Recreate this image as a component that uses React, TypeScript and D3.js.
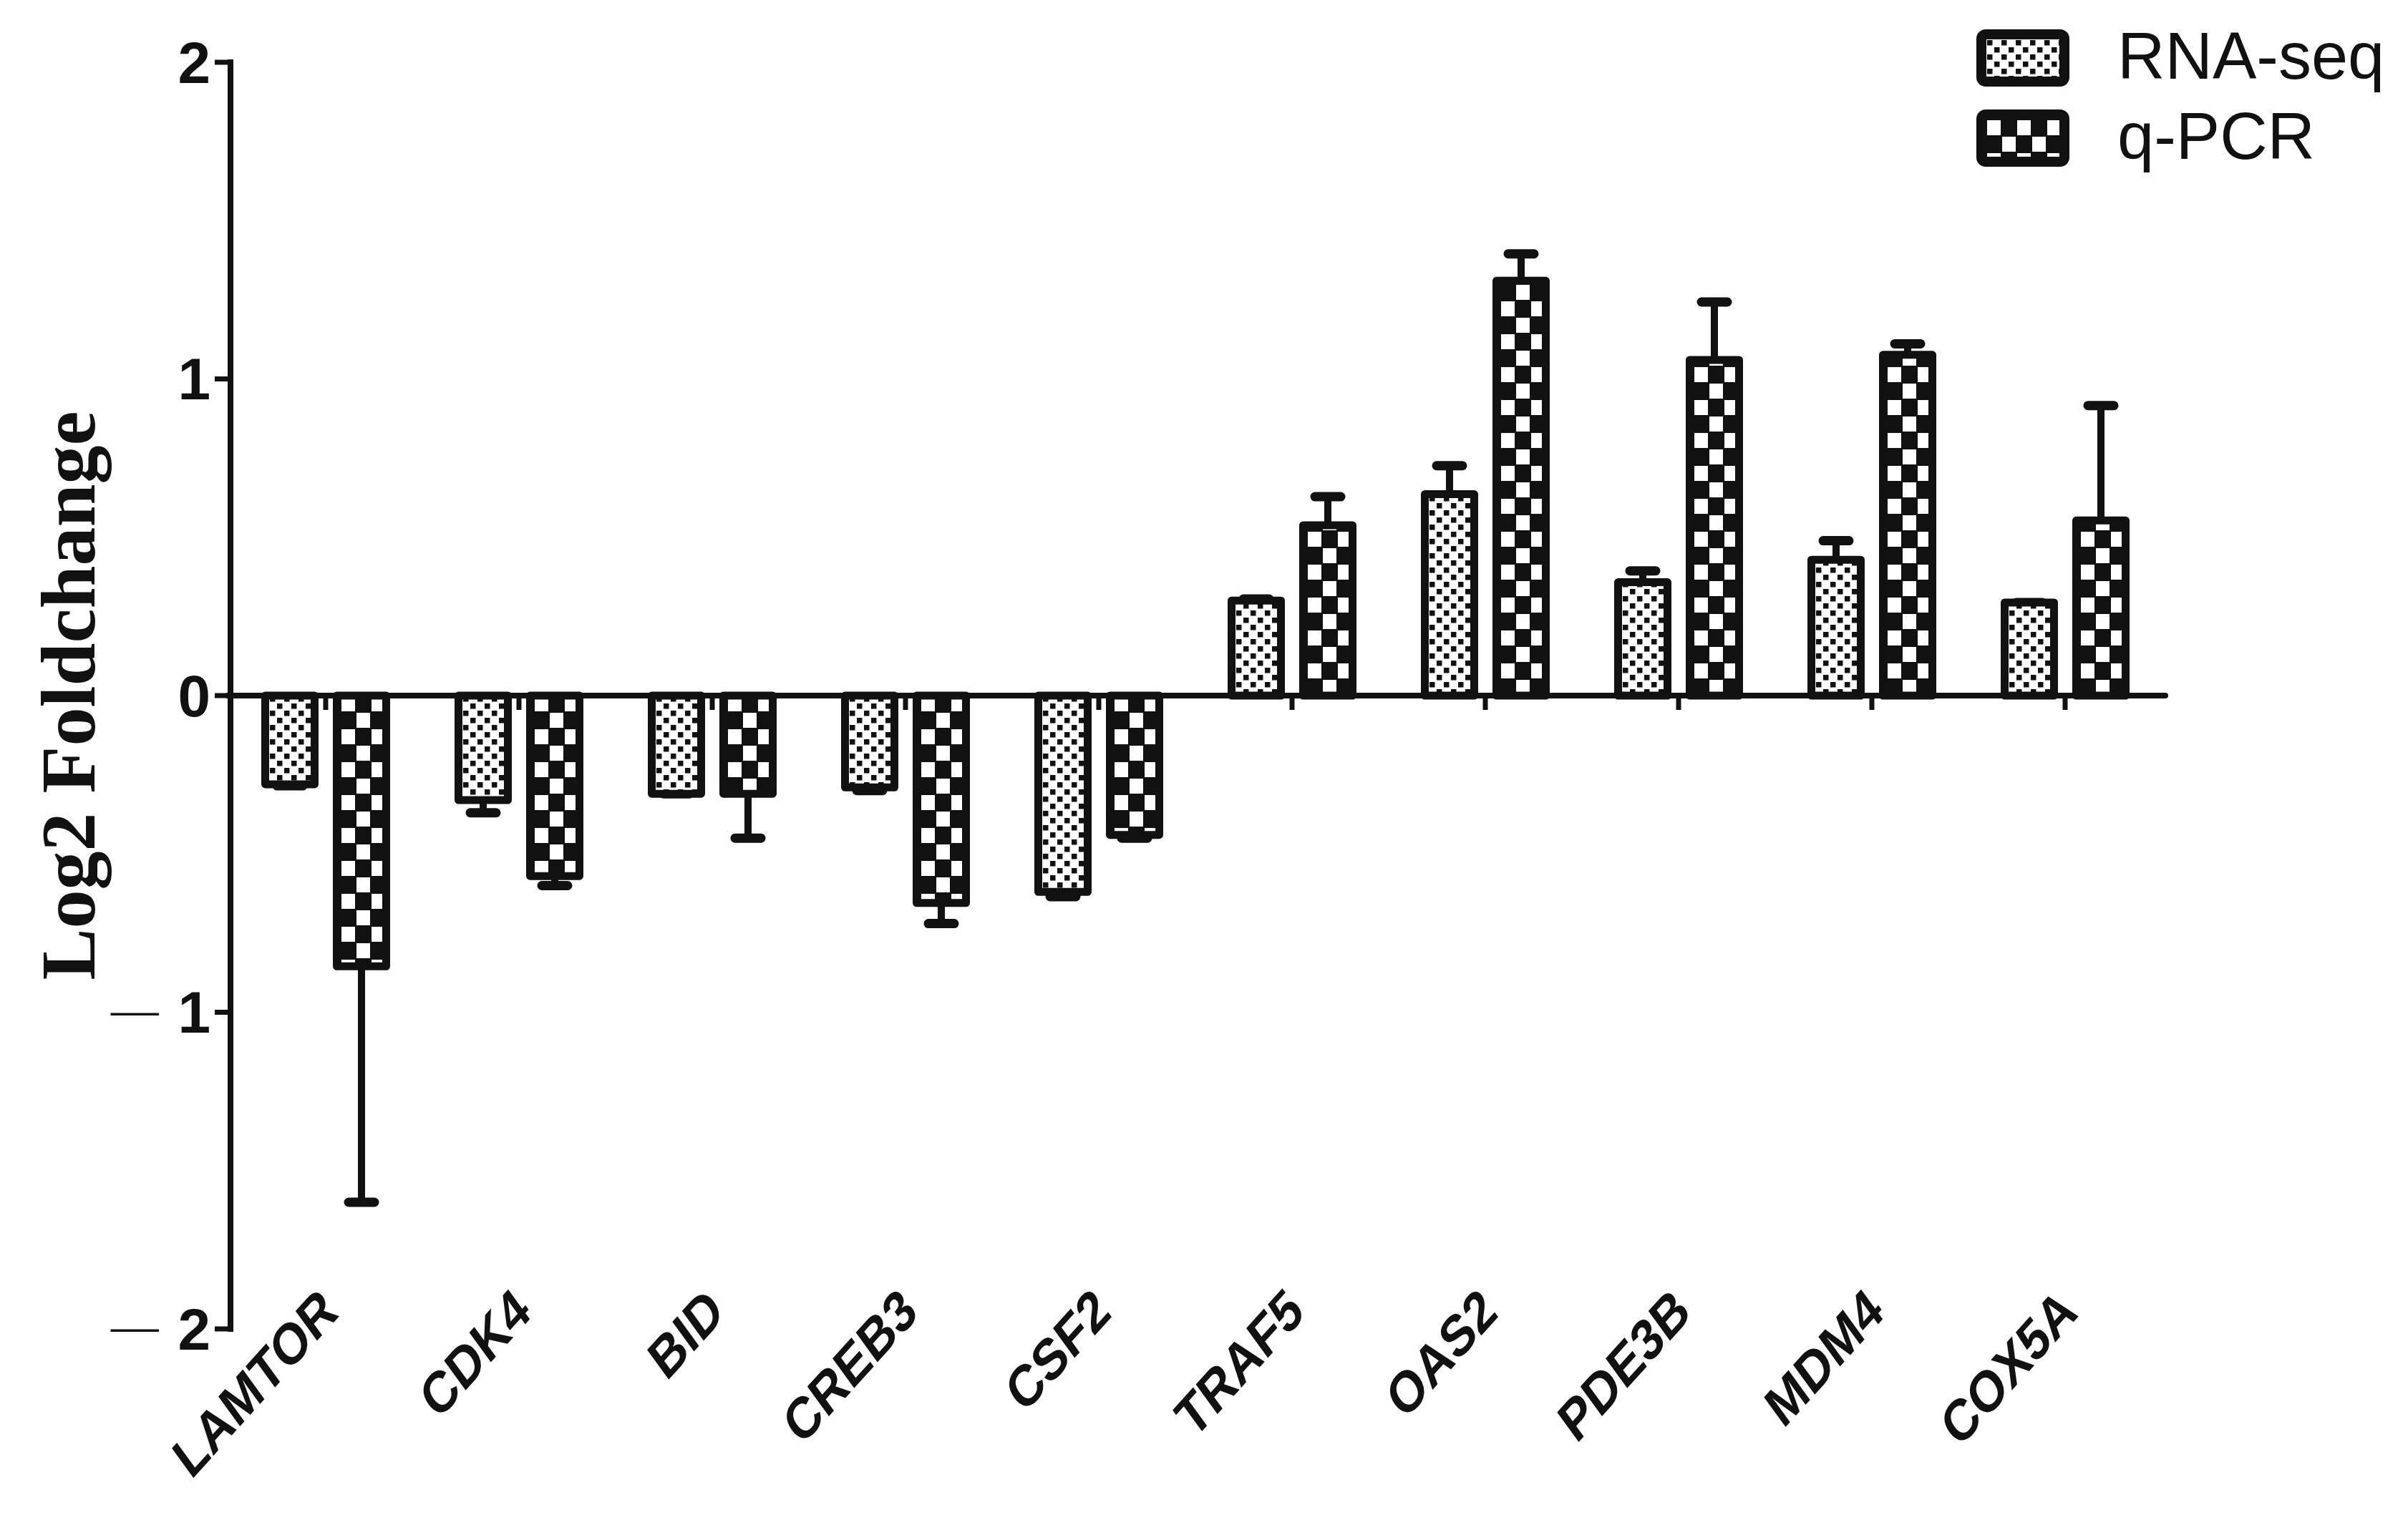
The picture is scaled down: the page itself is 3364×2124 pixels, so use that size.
import React from "react";
import * as d3 from "d3";

const categories = ["LAMTOR", "CDK4", "BID", "CREB3", "CSF2", "TRAF5", "OAS2", "PDE3B", "MDM4", "COX5A"];
const seriesNames = ["RNA-seq", "q-PCR"];
const rnaSeq = [-0.28, -0.33, -0.31, -0.29, -0.62, 0.30, 0.636, 0.358, 0.429, 0.294];
const rnaSeqErr = [0.005, 0.04, 0.0, 0.01, 0.015, 0.005, 0.09, 0.036, 0.06, 0.0];
const qPCR = [-0.855, -0.57, -0.31, -0.655, -0.44, 0.538, 1.31, 1.06, 1.076, 0.553];
const qPCRErr = [0.745, 0.03, 0.14, 0.065, 0.01, 0.09, 0.085, 0.183, 0.035, 0.363];
const yTicks = [-2, -1, 0, 1, 2];

const W = 3364;
const H = 2124;
const SANS = "'Liberation Sans', Arial, sans-serif";
const SERIF = "'Liberation Serif', 'Times New Roman', serif";

function DotTile({ id, x, y }: { id: string; x: number; y: number }) {
  return (
    <pattern id={id} patternUnits="userSpaceOnUse" x={x} y={y} width={20} height={20}>
      <rect width={20} height={20} fill="#fff" />
      <rect x={1} y={1} width={7.5} height={7.5} fill="#111" />
      <rect x={11} y={11} width={7.5} height={7.5} fill="#111" />
    </pattern>
  );
}

function CheckTile({ id, x, y }: { id: string; x: number; y: number }) {
  return (
    <pattern id={id} patternUnits="userSpaceOnUse" x={x} y={y} width={42} height={46}>
      <rect width={42} height={46} fill="#111" />
      <rect x={1} y={1} width={19} height={21} fill="#fff" />
      <rect x={22} y={24} width={19} height={21} fill="#fff" />
    </pattern>
  );
}

export default function App() {
  const x0 = d3.scaleBand<string>().domain(categories).range([320, 3020]).paddingInner(0).paddingOuter(0);
  const x1 = d3.scaleBand<string>().domain(seriesNames).range([45, 225]).paddingInner(0.2).paddingOuter(0);
  const y = d3.scaleLinear().domain([-2, 2]).range([1857, 87]);
  const y0 = y(0);
  const bw = x1.bandwidth();
  const SW = 11;

  const bars: any[] = [];
  categories.forEach((c, i) => {
    [
      { s: "RNA-seq", v: rnaSeq[i], e: rnaSeqErr[i], p: "dots" },
      { s: "q-PCR", v: qPCR[i], e: qPCRErr[i], p: "check" },
    ].forEach((d) => {
      const left = (x0(c) as number) + (x1(d.s) as number);
      bars.push({ c, i, ...d, left });
    });
  });

  return (
    <svg width={W} height={H} style={{ position: "absolute", left: 0, top: 0, background: "#fff" }}>
      <defs>
        {bars.map((b, k) =>
          b.p === "dots" ? (
            <DotTile key={k} id={`pat${k}`} x={b.left + SW} y={y0} />
          ) : (
            <CheckTile key={k} id={`pat${k}`} x={b.left + SW} y={y0} />
          )
        )}
        <DotTile id="legDots" x={2775} y={55} />
        <CheckTile id="legCheck" x={2775} y={167} />
      </defs>

      {/* bars */}
      {bars.map((b, k) => {
        const yTop = y(Math.max(b.v, 0));
        const yBot = y(Math.min(b.v, 0));
        const cx = b.left + bw / 2;
        const ye = y(b.v + (b.v >= 0 ? b.e : -b.e));
        return (
          <g key={k}>
            <line x1={cx} x2={cx} y1={y(b.v)} y2={ye} stroke="#111" strokeWidth={10} />
            <line x1={cx - 18} x2={cx + 18} y1={ye} y2={ye} stroke="#111" strokeWidth={13} strokeLinecap="round" />
            <rect
              x={b.left + SW / 2}
              y={yTop}
              width={bw - SW}
              height={yBot - yTop}
              fill={`url(#pat${k})`}
              stroke="#111"
              strokeWidth={SW}
              strokeLinejoin="round"
            />
          </g>
        );
      })}

      {/* x axis */}
      <line x1={318} x2={3025} y1={y0} y2={y0} stroke="#111" strokeWidth={8} strokeLinecap="round" />
      {categories.map((c) => {
        const cx = (x0(c) as number) + x0.bandwidth() / 2;
        return <line key={c} x1={cx} x2={cx} y1={y0} y2={y0 + 20} stroke="#111" strokeWidth={7} />;
      })}

      {/* y axis */}
      <line x1={322} x2={322} y1={y(2) - 4} y2={y(-2) + 4} stroke="#111" strokeWidth={8} />
      {yTicks.map((t) => (
        <g key={t}>
          <line x1={300} x2={322} y1={y(t)} y2={y(t)} stroke="#111" strokeWidth={7} />
          {t < 0 && (
            <text
              transform={`translate(222, ${y(t) - 3}) scale(1.3, 1)`}
              textAnchor="end"
              dominantBaseline="central"
              fontFamily={SANS}
              fontSize={52}
              fill="#111"
            >
              —
            </text>
          )}
          <text
            x={294}
            y={y(t)}
            textAnchor="end"
            dominantBaseline="central"
            fontFamily={SANS}
            fontWeight="bold"
            fontSize={82}
            fill="#111"
          >
            {String(Math.abs(t))}
          </text>
        </g>
      ))}

      {/* y title */}
      <text
        transform={`translate(132, ${y0}) rotate(-90)`}
        textAnchor="middle"
        fontFamily={SERIF}
        fontWeight="bold"
        fontSize={108}
        fill="#111"
      >
        Log2 Foldchange
      </text>

      {/* category labels */}
      {categories.map((c) => {
        const cx = (x0(c) as number) + x0.bandwidth() / 2;
        return (
          <text
            key={c}
            transform={`translate(${cx + 20}, 1838) rotate(-48) skewX(-12)`}
            textAnchor="end"
            fontFamily={SANS}
            fontWeight="bold"
            fontSize={73}
            fill="#111"
          >
            {c}
          </text>
        );
      })}

      {/* legend */}
      <rect x={2768} y={48} width={116} height={66} rx={6} fill="url(#legDots)" stroke="#111" strokeWidth={14} />
      <rect x={2768} y={160} width={116} height={66} rx={6} fill="url(#legCheck)" stroke="#111" strokeWidth={14} />
      <text x={2958} y={110} fontFamily={SANS} fontSize={92} fill="#111">RNA-seq</text>
      <text x={2958} y={222} fontFamily={SANS} fontSize={92} fill="#111">q-PCR</text>
    </svg>
  );
}
